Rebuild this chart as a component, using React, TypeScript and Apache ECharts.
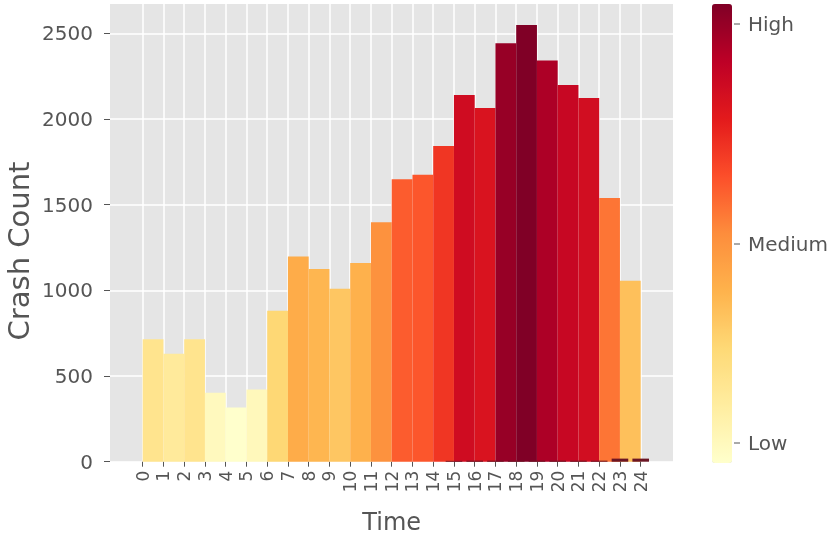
import { useEffect, useRef } from "react";
import * as echarts from "echarts";

// ---- data ----
const hours = [0, 1, 2, 3, 4, 5, 6, 7, 8, 9, 10, 11, 12, 13, 14, 15, 16, 17, 18, 19, 20, 21, 22, 23];
const crashCounts = [714, 630, 714, 402, 316, 422, 881, 1197, 1124, 1010, 1160, 1398, 1649, 1675, 1842, 2140, 2064, 2442, 2548, 2341, 2198, 2122, 1539, 1056];
const minorHours = [15, 16, 17, 18, 19, 20, 21, 22, 23, 24];
const minorCounts = [5, 6, 6, 6, 6, 6, 6, 6, 18, 18];
const yTicks = [0, 500, 1000, 1500, 2000, 2500];
const colorbarLabels = ["Low", "Medium", "High"];
const ylOrRd = ["#ffffcc", "#ffeda0", "#fed976", "#feb24c", "#fd8d3c", "#fc4e2a", "#e31a1c", "#bd0026", "#800026"];

const FONT = "DejaVu Sans";
const TXT = "#555555";

export default function App() {
  const ref = useRef<HTMLDivElement>(null);
  useEffect(() => {
    if (!ref.current) return;
    const chart = echarts.init(ref.current, undefined, { renderer: "svg" });
    const yMax = yTicks[yTicks.length - 1];
    const cbTop = 4;
    const cbHeight = 459;
    const cbLabelY = [443, 244, 24];
    const option: any = {
      animation: false,
      textStyle: { fontFamily: FONT },
      grid: [
        { left: 110, top: 33.3, width: 563, height: 428.4 },
        { left: 142.7, top: 4, width: 498, height: 457.7 },
      ],
      xAxis: [
        { gridIndex: 0, type: "value", min: 0, max: 1, show: false },
        {
          gridIndex: 1,
          type: "value",
          min: 0,
          max: 24,
          interval: 1,
          axisLine: { show: false },
          axisTick: { show: true, length: 5, lineStyle: { color: TXT, width: 1 } },
          axisLabel: { rotate: 90, fontSize: 17, color: TXT, margin: 9, fontFamily: FONT },
          splitLine: { show: true, lineStyle: { color: "#ffffff", width: 1.5 } },
          name: "Time",
          nameLocation: "middle",
          nameGap: 48,
          nameTextStyle: { fontSize: 24, color: TXT, fontFamily: FONT },
        },
      ],
      yAxis: [
        {
          gridIndex: 0,
          type: "value",
          min: 0,
          max: yMax,
          interval: 500,
          axisLine: { show: false },
          axisTick: { show: true, length: 6, lineStyle: { color: TXT, width: 1 } },
          axisLabel: { fontSize: 20, color: TXT, margin: 17, fontFamily: FONT, formatter: (v: number) => String(v) },
          splitLine: { show: true, lineStyle: { color: "#ffffff", width: 1.5 } },
        },
        { gridIndex: 1, type: "value", min: 0, max: 2671, show: false },
      ],
      visualMap: {
        type: "continuous",
        seriesIndex: 0,
        dimension: 1,
        min: Math.min(...crashCounts),
        max: Math.max(...crashCounts),
        inRange: { color: ylOrRd },
        left: 712,
        top: cbTop,
        itemWidth: 20,
        itemHeight: cbHeight,
        padding: 0,
        calculable: false,
        hoverLink: false,
        orient: "vertical",
      },
      graphic: [
        { type: "rect", z: -10, silent: true, shape: { x: 110, y: 4, width: 563, height: 457.7 }, style: { fill: "#e5e5e5" } },
        {
          type: "text",
          x: 19,
          y: 251,
          rotation: Math.PI / 2,
          style: { text: "Crash Count", fontSize: 29, fill: TXT, fontFamily: FONT, align: "center", verticalAlign: "middle" },
        },
        ...colorbarLabels.flatMap((t, i) => [
          { type: "line", shape: { x1: 734, y1: cbLabelY[i], x2: 740, y2: cbLabelY[i] }, style: { stroke: TXT, lineWidth: 1 } },
          {
            type: "text",
            x: 748,
            y: cbLabelY[i],
            style: { text: t, fontSize: 20, fill: TXT, fontFamily: FONT, align: "left", verticalAlign: "middle" },
          },
        ]),
      ],
      series: [
        {
          type: "custom",
          xAxisIndex: 1,
          yAxisIndex: 1,
          clip: false,
          data: hours.map((h, i) => [h, crashCounts[i]]),
          renderItem: (_p: any, api: any) => {
            const h = api.value(0);
            const v = api.value(1);
            const a = api.coord([h, v]);
            const b = api.coord([h + 1, 0]);
            return {
              type: "rect",
              shape: { x: a[0], y: a[1], width: b[0] - a[0], height: b[1] - a[1] },
              style: { fill: api.visual("color") },
            };
          },
        },
        {
          type: "custom",
          xAxisIndex: 1,
          yAxisIndex: 1,
          clip: false,
          data: minorHours.map((h, i) => [h, minorCounts[i]]),
          renderItem: (_p: any, api: any) => {
            const h = api.value(0);
            const v = api.value(1);
            const a = api.coord([h - 0.4, v]);
            const b = api.coord([h + 0.4, 0]);
            return {
              type: "rect",
              shape: { x: a[0], y: a[1], width: b[0] - a[0], height: b[1] - a[1] },
              style: { fill: "#6b1524" },
            };
          },
        },
      ],
    };
    chart.setOption(option);
    return () => chart.dispose();
  }, []);
  return <div ref={ref} style={{ position: "fixed", left: 0, top: 0, width: 837, height: 541 }} />;
}
